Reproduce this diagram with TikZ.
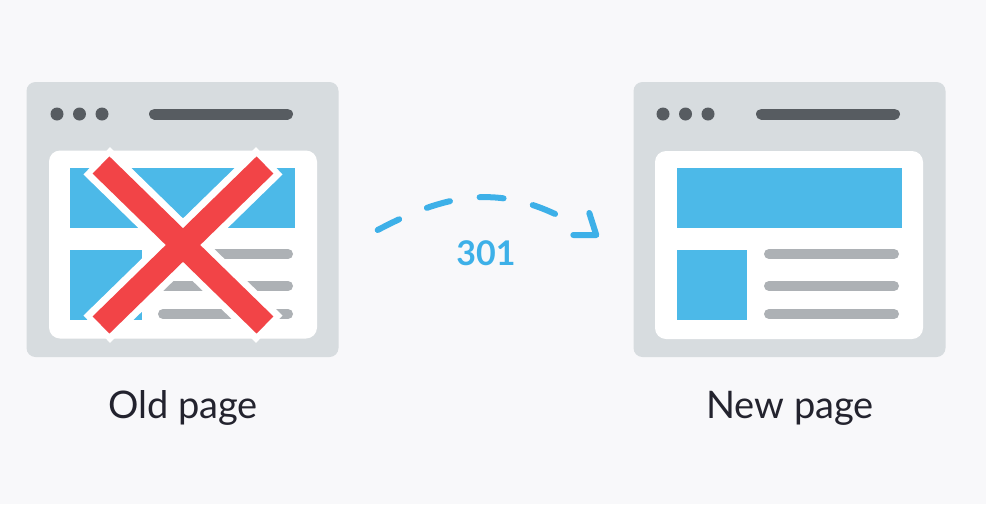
\documentclass[tikz,border=0pt]{standalone}
\usepackage{fontspec}
\setmainfont{Lato}
\usetikzlibrary{calc}
\definecolor{bgc}{HTML}{F8F8FA}
\definecolor{framec}{HTML}{D7DCDF}
\definecolor{darkc}{HTML}{575C61}
\definecolor{bluec}{HTML}{4CB9E8}
\definecolor{linec}{HTML}{ADB1B5}
\definecolor{redc}{HTML}{F24447}
\definecolor{arrowc}{HTML}{3DB0E8}
\definecolor{textc}{HTML}{23232E}
\tikzset{
  winframe/.style={fill=framec, rounded corners=9pt, minimum width=312pt, minimum height=275pt, inner sep=0pt},
  winpanel/.style={fill=white, rounded corners=11pt, minimum width=268pt, minimum height=188pt, inner sep=0pt},
  bluebox/.style={fill=bluec, inner sep=0pt},
  dotc/.style={fill=darkc, circle, minimum size=13pt, inner sep=0pt},
  addrbar/.style={draw=darkc, line width=11pt, line cap=round},
  txtline/.style={draw=linec, line width=10pt, line cap=round},
  xwhite/.style={draw=white, line width=38pt},
  xred/.style={draw=redc, line width=24pt},
  redirect/.style={draw=arrowc, line width=6pt, line cap=round, dash pattern=on 24pt off 30pt},
  headc/.style={draw=arrowc, line width=6pt, line cap=round, line join=round},
  lbl/.style={text=textc, font=\fontsize{38}{40}\selectfont, inner sep=0pt, anchor=base},
  code/.style={text=arrowc, font=\bfseries\fontsize{34}{36}\selectfont, inner sep=0pt}
}
\begin{document}
\begin{tikzpicture}[x=1pt,y=-1pt]
\fill[bgc] (0,0) rectangle (986,504);
\useasboundingbox (0,0) rectangle (986,504);

% ---------- old page ----------
\node[winframe] (oldwin) at (182.5,219.5) {};
\node[dotc] (od1) at (57,114) {};
\node[dotc] (od2) at (79.5,114) {};
\node[dotc] (od3) at (102,114) {};
\coordinate (ob1) at (154.5,114);
\coordinate (ob2) at (287.5,114);
\draw[addrbar] (ob1) -- (ob2);
\node[winpanel] (oldpanel) at (183,244.5) {};
\node[bluebox, minimum width=225pt, minimum height=60pt] (oldtop) at (182.5,198) {};
\node[bluebox, minimum width=72pt, minimum height=70pt] (oldsq) at (106,285) {};
\coordinate (ol1a) at (163,254); \coordinate (ol1b) at (288,254);
\coordinate (ol2a) at (163,286); \coordinate (ol2b) at (288,286);
\coordinate (ol3a) at (163,314); \coordinate (ol3b) at (288,314);
\draw[txtline] (ol1a) -- (ol1b);
\draw[txtline] (ol2a) -- (ol2b);
\draw[txtline] (ol3a) -- (ol3b);
% red cross
\coordinate (xa1) at (101,165); \coordinate (xa2) at (265,325);
\coordinate (xb1) at (265,165); \coordinate (xb2) at (101,325);
\draw[xwhite] ($(xa1)!-6pt!(xa2)$) -- ($(xa2)!-6pt!(xa1)$);
\draw[xwhite] ($(xb1)!-6pt!(xb2)$) -- ($(xb2)!-6pt!(xb1)$);
\draw[xred] (xa1) -- (xa2);
\draw[xred] (xb1) -- (xb2);
\node[lbl] (oldlbl) at (183,418) {Old page};

% ---------- new page ----------
\node[winframe] (newwin) at (789.5,219.5) {};
\node[dotc] (nd1) at (663,114) {};
\node[dotc] (nd2) at (685.5,114) {};
\node[dotc] (nd3) at (708,114) {};
\coordinate (nb1) at (761.5,114);
\coordinate (nb2) at (894.5,114);
\draw[addrbar] (nb1) -- (nb2);
\node[winpanel] (newpanel) at (789,245) {};
\node[bluebox, minimum width=225pt, minimum height=60pt] (newtop) at (789.5,198) {};
\node[bluebox, minimum width=70pt, minimum height=70pt] (newsq) at (712,285) {};
\coordinate (nl1a) at (769,254); \coordinate (nl1b) at (894,254);
\coordinate (nl2a) at (769,286); \coordinate (nl2b) at (894,286);
\coordinate (nl3a) at (769,314); \coordinate (nl3b) at (894,314);
\draw[txtline] (nl1a) -- (nl1b);
\draw[txtline] (nl2a) -- (nl2b);
\draw[txtline] (nl3a) -- (nl3b);
\node[lbl] (newlbl) at (790,418) {New page};

% ---------- redirect arrow ----------
\coordinate (rstart) at ([shift={(39,10.5)}]oldwin.east);
\coordinate (rend) at ([shift={(-70,-1.5)}]newwin.west);
\coordinate (tip) at ([shift={(-37,15.5)}]newwin.west);
\draw[redirect] (rstart) .. controls ($(rstart)+(68,-36)$) and ($(rend)+(-66,-34)$) .. (rend);
\draw[headc] ([shift={(-7,-22)}]tip) -- (tip) -- ([shift={(-23,0)}]tip);
\node[code] (code) at (486,253) {301};
\end{tikzpicture}
\end{document}
